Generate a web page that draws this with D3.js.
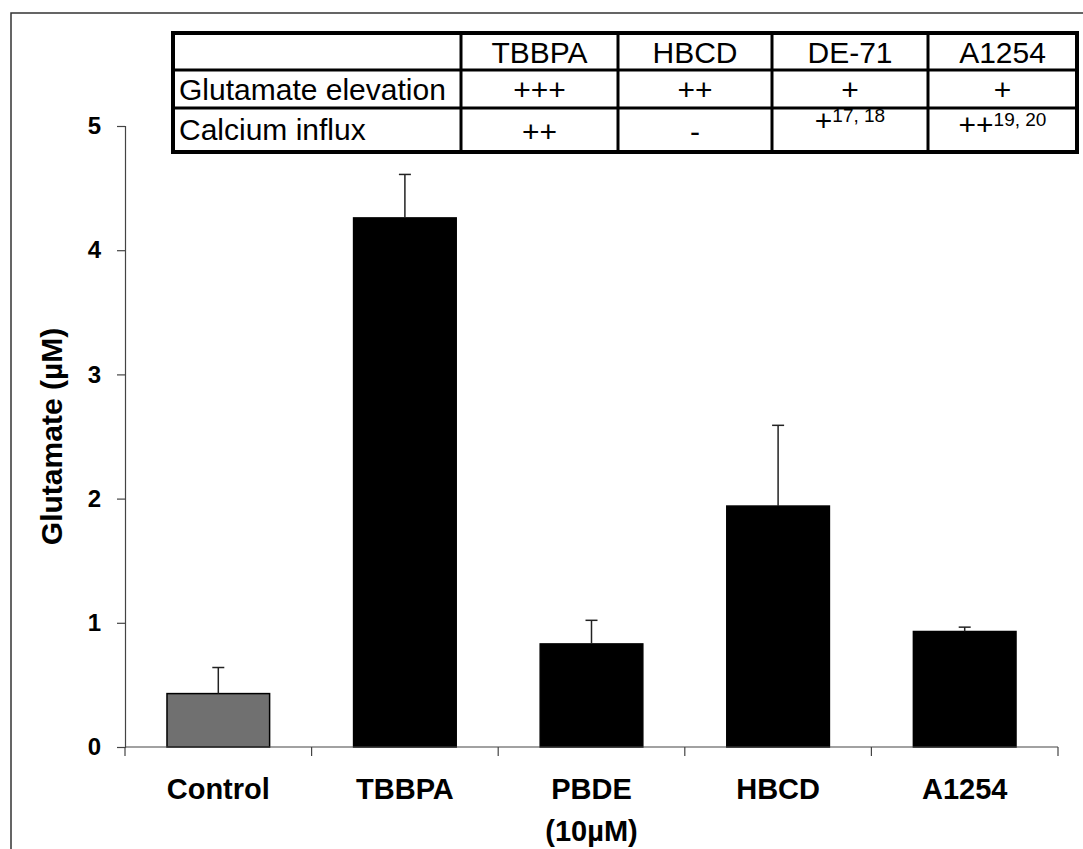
<!DOCTYPE html>
<html>
  <head>
    <meta charset="utf-8">
    <style>
    body {margin:0; background:white;}
    * { font-family: "Liberation Sans", Arial, sans-serif; }
    svg { background: white; display:block; }
    </style>
  </head>
  <body>
    <div id="chart"></div>
    <script src="https://d3js.org/d3.v7.min.js"></script>
    <script>

  // data
  var categories = ["Control", "TBBPA", "PBDE", "HBCD", "A1254"];
  var subLabels = ["", "", "(10\u00b5M)", "", ""];
  var means = [0.43, 4.26, 0.83, 1.94, 0.93];
  var errors = [0.21, 0.35, 0.19, 0.65, 0.035];
  var yTicks = [0, 1, 2, 3, 4, 5];

  // inset table
  var tableHeader = ["", "TBBPA", "HBCD", "DE-71", "A1254"];
  var rowLabels = ["Glutamate elevation", "Calcium influx"];
  var glutamateRow = ["+++", "++", "+", "+"];
  var calciumRow = ["++", "-", "+", "++"];
  var calciumRefs = ["", "", "17, 18", "19, 20"];

  var W = 1083, H = 849;

  var svg = d3.select("#chart")
    .append("svg")
    .attr("width", W)
    .attr("height", H);

  // outer frame (left + top visible)
  svg.append("path")
    .attr("d", "M11," + H + "V13H" + W)
    .attr("fill", "none")
    .attr("stroke", "#333")
    .attr("stroke-width", 1.5);

  var x = d3.scaleBand()
    .domain(categories)
    .range([125, 1058])
    .paddingInner(0.45)
    .paddingOuter(0.225);

  var y = d3.scaleLinear()
    .domain([0, 5])
    .range([747, 126]);

  // bars
  svg.append("g")
    .selectAll("rect")
    .data(categories)
    .enter().append("rect")
    .attr("x", function(d) { return x(d); })
    .attr("width", x.bandwidth())
    .attr("y", function(d, i) { return y(means[i]); })
    .attr("height", function(d, i) { return y(0) - y(means[i]); })
    .attr("fill", function(d, i) { return i === 0 ? "#707070" : "#000"; })
    .attr("stroke", "#000")
    .attr("stroke-width", 1.5);

  // error bars (upper half only)
  var eb = svg.append("g")
    .selectAll("g")
    .data(categories)
    .enter().append("g");

  eb.append("line")
    .attr("x1", function(d) { return x(d) + x.bandwidth() / 2; })
    .attr("x2", function(d) { return x(d) + x.bandwidth() / 2; })
    .attr("y1", function(d, i) { return y(means[i]); })
    .attr("y2", function(d, i) { return y(means[i] + errors[i]); })
    .attr("stroke", "#222")
    .attr("stroke-width", 1.5);

  eb.append("line")
    .attr("x1", function(d) { return x(d) + x.bandwidth() / 2 - 6; })
    .attr("x2", function(d) { return x(d) + x.bandwidth() / 2 + 6; })
    .attr("y1", function(d, i) { return y(means[i] + errors[i]); })
    .attr("y2", function(d, i) { return y(means[i] + errors[i]); })
    .attr("stroke", "#222")
    .attr("stroke-width", 1.5);

  // y axis
  var yaxis = d3.axisLeft(y)
    .tickValues(yTicks)
    .tickSize(8)
    .tickPadding(16)
    .tickFormat(d3.format("d"));

  var gy = svg.append("g")
    .attr("transform", "translate(125,0)")
    .call(yaxis);
  gy.select(".domain").attr("stroke", "#444").attr("stroke-width", 1.2);
  gy.selectAll(".tick line").attr("stroke", "#444").attr("stroke-width", 1.2);
  gy.selectAll(".tick text")
    .attr("fill", "#000")
    .style("font-size", "24px")
    .style("font-weight", "bold");

  // x axis: line + ticks at band boundaries
  var bounds = categories.map(function(d) {
    return x(d) - (x.step() - x.bandwidth()) / 2;
  });
  bounds.push(x.range()[1]);

  svg.append("line")
    .attr("x1", x.range()[0]).attr("x2", x.range()[1])
    .attr("y1", y(0)).attr("y2", y(0))
    .attr("stroke", "#444").attr("stroke-width", 1.2);

  svg.append("g")
    .selectAll("line")
    .data(bounds)
    .enter().append("line")
    .attr("x1", function(d) { return d; })
    .attr("x2", function(d) { return d; })
    .attr("y1", y(0))
    .attr("y2", y(0) + 9)
    .attr("stroke", "#444")
    .attr("stroke-width", 1.2);

  svg.append("g")
    .selectAll("text")
    .data(categories)
    .enter().append("text")
    .attr("x", function(d) { return x(d) + x.bandwidth() / 2; })
    .attr("y", 799)
    .attr("text-anchor", "middle")
    .style("font-size", "29px")
    .style("font-weight", "bold")
    .text(function(d) { return d; });

  svg.append("g")
    .selectAll("text")
    .data(categories)
    .enter().append("text")
    .attr("x", function(d) { return x(d) + x.bandwidth() / 2; })
    .attr("y", 841)
    .attr("text-anchor", "middle")
    .style("font-size", "29px")
    .style("font-weight", "bold")
    .text(function(d, i) { return subLabels[i]; });

  // y title
  svg.append("text")
    .attr("transform", "translate(62," + ((y(0) + y(5)) / 2) + ") rotate(-90)")
    .attr("text-anchor", "middle")
    .style("font-size", "30px")
    .style("font-weight", "bold")
    .text("Glutamate (\u00b5M)");

  // ---- table ----
  var colEdges = [173, 461, 618, 772, 928, 1077];
  var rowEdges = [33, 70, 108, 152];
  var tbl = svg.append("g");

  tbl.append("rect")
    .attr("x", colEdges[0]).attr("y", rowEdges[0])
    .attr("width", colEdges[5] - colEdges[0])
    .attr("height", rowEdges[3] - rowEdges[0])
    .attr("fill", "white")
    .attr("stroke", "#000")
    .attr("stroke-width", 4);

  colEdges.slice(1, 5).forEach(function(cx) {
    tbl.append("line")
      .attr("x1", cx).attr("x2", cx)
      .attr("y1", rowEdges[0]).attr("y2", rowEdges[3])
      .attr("stroke", "#000").attr("stroke-width", 3);
  });
  rowEdges.slice(1, 3).forEach(function(ry) {
    tbl.append("line")
      .attr("x1", colEdges[0]).attr("x2", colEdges[5])
      .attr("y1", ry).attr("y2", ry)
      .attr("stroke", "#000").attr("stroke-width", 3);
  });

  function colMid(j) { return (colEdges[j] + colEdges[j + 1]) / 2; }

  tableHeader.forEach(function(t, j) {
    if (!t) return;
    tbl.append("text")
      .attr("x", colMid(j)).attr("y", 63)
      .attr("text-anchor", "middle")
      .style("font-size", "30px")
      .text(t);
  });

  tbl.append("text").attr("x", 179).attr("y", 100)
    .style("font-size", "30px").text(rowLabels[0]);
  tbl.append("text").attr("x", 179).attr("y", 140)
    .style("font-size", "30px").text(rowLabels[1]);

  glutamateRow.forEach(function(t, j) {
    tbl.append("text")
      .attr("x", colMid(j + 1)).attr("y", 100)
      .attr("text-anchor", "middle")
      .style("font-size", "30px")
      .text(t);
  });

  var calcBase = [142, 142, 131, 135];
  calciumRow.forEach(function(t, j) {
    var txt = tbl.append("text")
      .attr("x", colMid(j + 1)).attr("y", calcBase[j])
      .attr("text-anchor", "middle")
      .style("font-size", "30px");
    txt.append("tspan").text(t);
    if (calciumRefs[j]) {
      txt.append("tspan")
        .attr("dy", -9)
        .style("font-size", "19px")
        .text(calciumRefs[j]);
    }
  });

    </script>
  </body>
</html>
